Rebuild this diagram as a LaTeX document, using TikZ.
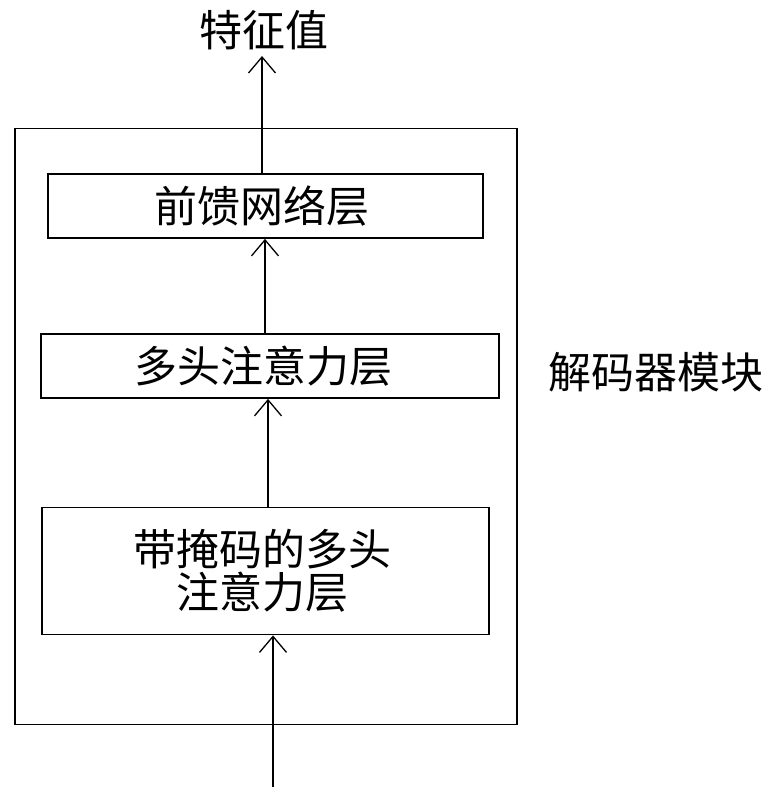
\documentclass[tikz,border=0pt]{standalone}
\usepackage{fontspec}
\newfontfamily\cjk{Noto Sans CJK SC}
\usetikzlibrary{arrows.meta}
\begin{document}
\begin{tikzpicture}[x=1pt,y=-1pt,
  box/.style={draw, line width=1.8pt, inner sep=0pt, align=center, font=\cjk\fontsize{43}{43}\selectfont},
  lbl/.style={inner sep=0pt, font=\cjk\fontsize{43}{43}\selectfont},
  arr/.style={line width=1.3pt, -{Straight Barb[length=16pt,width=27pt,line width=1.3pt]}}]
\useasboundingbox (0,0) rectangle (769,799);
\node[draw, line width=1.8pt, minimum width=502pt, minimum height=596pt, inner sep=0pt] (outer) at (266,426.5) {};
\node[box, minimum width=435pt, minimum height=64pt] (ffn) at (265.5,206) {\hspace*{-8pt}前馈网络层};
\node[box, minimum width=458pt, minimum height=64pt] (mha) at (270,366) {\hspace*{-14pt}多头注意力层};
\node[box, minimum width=447pt, minimum height=127pt] (mmha) at (265.5,571) {\hspace*{-6pt}带掩码的多头\\\hspace*{-6pt}注意力层};
\node[lbl] (out) at (264,30) {特征值};
\node[lbl] (dec) at (656,372) {解码器模块};
\coordinate (top) at (262,56);
\coordinate (bot) at (273,787);
\draw[arr] (ffn.north -| top) -- (top);
\draw[arr] ([xshift=265pt]mha.north -| 0,0) -- ([xshift=265pt]ffn.south -| 0,0);
\draw[arr] ([xshift=268pt]mmha.north -| 0,0) -- ([xshift=268pt]mha.south -| 0,0);
\draw[arr] (bot) -- (mmha.south -| bot);
\end{tikzpicture}
\end{document}
